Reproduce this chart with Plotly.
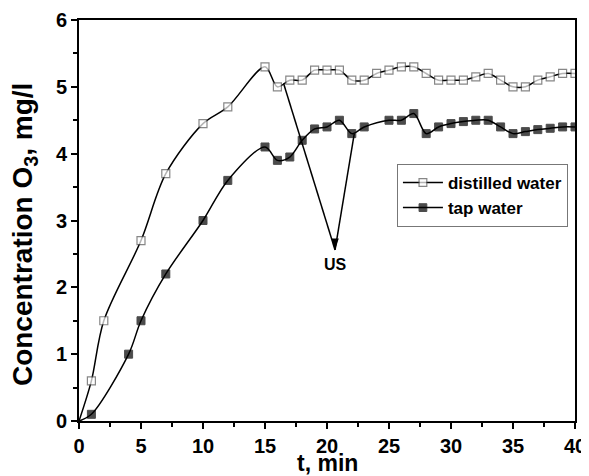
import plotly.graph_objects as go

# Distilled water
t_dist = [0, 1, 2, 5, 7, 10, 12, 15, 16, 17, 18, 19, 20, 21, 22, 23, 24, 25, 26, 27,
          28, 29, 30, 31, 32, 33, 34, 35, 36, 37, 38, 39, 40]
c_dist = [0, 0.6, 1.5, 2.7, 3.7, 4.45, 4.7, 5.3, 5.0, 5.1, 5.1, 5.25, 5.25, 5.25, 5.1, 5.1, 5.2, 5.25, 5.3, 5.3,
          5.2, 5.1, 5.1, 5.1, 5.15, 5.2, 5.1, 5.0, 5.0, 5.1, 5.15, 5.2, 5.2]

# Tap water
t_tap = [0, 1, 4, 5, 7, 10, 12, 15, 16, 17, 18, 19, 20, 21, 22, 23, 25, 26, 27,
         28, 29, 30, 31, 32, 33, 34, 35, 36, 37, 38, 39, 40]
c_tap = [0, 0.1, 1.0, 1.5, 2.2, 3.0, 3.6, 4.1, 3.9, 3.95, 4.2, 4.37, 4.4, 4.5, 4.3, 4.4, 4.5, 4.5, 4.6,
         4.3, 4.4, 4.45, 4.48, 4.5, 4.5, 4.4, 4.3, 4.33, 4.36, 4.38, 4.4, 4.4]

# US annotation (two lines converging to an arrow tip)
us_tip_x = 20.65
us_tip_y = 2.56
us_lines_x = [16.5, us_tip_x, None, 22.2, us_tip_x]
us_lines_y = [5.05, us_tip_y, None, 4.3, us_tip_y]
us_label = "US"

x_ticks = [0, 5, 10, 15, 20, 25, 30, 35, 40]
y_ticks = [0, 1, 2, 3, 4, 5, 6]
x_title = "t, min"
y_title = "Concentration O<sub>3</sub>, mg/l"

FONT = "Liberation Sans, Arial"


def sizes(ts):
    return [0 if t == 0 else 8 for t in ts]


fig = go.Figure()
fig.add_trace(go.Scatter(
    x=t_dist, y=c_dist, mode="lines+markers", name="distilled water",
    line=dict(color="black", width=1.5, shape="spline", smoothing=0.9),
    marker=dict(symbol="square", size=sizes(t_dist), color="white",
                line=dict(color="#555555", width=1.2)),
))
fig.add_trace(go.Scatter(
    x=t_tap, y=c_tap, mode="lines+markers", name="tap water",
    line=dict(color="black", width=1.5, shape="spline", smoothing=0.9),
    marker=dict(symbol="square", size=sizes(t_tap), color="black",
                line=dict(color="black", width=1)),
))
fig.add_trace(go.Scatter(
    x=us_lines_x, y=us_lines_y, mode="lines", showlegend=False, hoverinfo="skip",
    line=dict(color="black", width=1.5),
))
fig.add_trace(go.Scatter(
    x=[us_tip_x], y=[us_tip_y], mode="markers", showlegend=False, hoverinfo="skip",
    marker=dict(symbol="arrow", angle=180, size=12, color="black",
                line=dict(color="black", width=0)),
))
fig.add_annotation(
    x=us_tip_x, y=us_tip_y, xref="x", yref="y", text=us_label,
    showarrow=False, yanchor="top", yshift=-4,
    font=dict(family=FONT, size=16, color="black", weight="bold"),
)
# Axis titles (placed as annotations to match the reference's offsets)
fig.add_annotation(
    x=-0.111, y=0.466, xref="paper", yref="paper", text=y_title,
    showarrow=False, textangle=-90, xanchor="center", yanchor="middle",
    font=dict(family=FONT, size=28, color="black", weight="bold"),
)
fig.add_annotation(
    x=0.5, y=-0.105, xref="paper", yref="paper", text=x_title,
    showarrow=False, xanchor="center", yanchor="middle",
    font=dict(family=FONT, size=23, color="black", weight="bold"),
)

axis_common = dict(
    showgrid=False, zeroline=False, showline=True, linecolor="black", linewidth=2,
    mirror=True, ticks="outside", ticklen=6, tickwidth=1.5, tickcolor="black",
    automargin=False,
    tickfont=dict(family=FONT, size=20, color="black", weight="bold"),
)

fig.update_xaxes(
    range=[0, 40], tickvals=x_ticks, **axis_common,
    minor=dict(ticks="outside", ticklen=4, tickwidth=1.5, tickcolor="black", dtick=2.5, tick0=0),
)
fig.update_yaxes(
    range=[0, 6], tickvals=y_ticks, **axis_common,
    minor=dict(ticks="outside", ticklen=4, tickwidth=1.5, tickcolor="black", dtick=0.5, tick0=0),
)

fig.update_layout(
    width=581, height=468,
    margin=dict(l=71, r=14, t=12, b=55),
    paper_bgcolor="white", plot_bgcolor="white",
    showlegend=True,
    legend=dict(x=0.641, y=0.641, xanchor="left", yanchor="top",
                bordercolor="#777777", borderwidth=1, bgcolor="white",
                font=dict(family=FONT, size=17, color="black", weight="bold"),
                tracegroupgap=0, itemwidth=40),
)

fig.write_html("out.html")
